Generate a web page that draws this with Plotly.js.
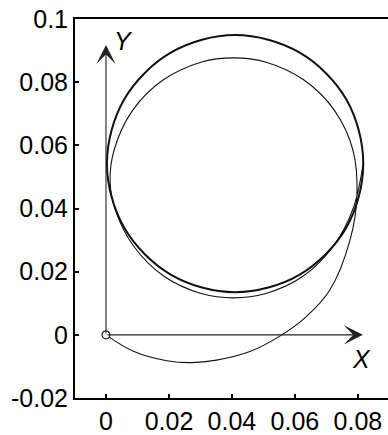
<!DOCTYPE html>
<html>
<head>
<meta charset="utf-8">
<script src="https://cdn.plot.ly/plotly-3.0.1.min.js"></script>
<style>
  html, body { margin: 0; padding: 0; background: #fff; overflow: hidden; }
  #chart { width: 390px; height: 435px; }
</style>
</head>
<body>
<div id="chart"></div>
<script>
// transient path: starts at the origin, one wide pass, then a second loop
const pathX = [0, 0.0087, 0.0193, 0.0272, 0.0351, 0.0457, 0.0552, 0.0630, 0.0711, 0.0775, 0.0797,
  0.0784, 0.0726, 0.0630, 0.0506, 0.0405, 0.0304, 0.0180, 0.0084, 0.0026, 0.0013,
  0.0030, 0.0087, 0.0182, 0.0305, 0.0405, 0.0505, 0.0628, 0.0723, 0.0785, 0.0817];
const pathY = [0, -0.0052, -0.0082, -0.0088, -0.0080, -0.0053, -0.0004, 0.0052, 0.0142, 0.0300, 0.0440,
  0.0586, 0.0710, 0.0806, 0.0864, 0.0877, 0.0864, 0.0806, 0.0710, 0.0586, 0.0485,
  0.0395, 0.0282, 0.0187, 0.0130, 0.0117, 0.0130, 0.0187, 0.0282, 0.0400, 0.0542];

// settled loop (drawn heavier, several passes overlap in the original)
const cycleX = [0.0817, 0.0763, 0.0614, 0.0410, 0.0207, 0.0058, 0.0003, 0.0058, 0.0207, 0.0410, 0.0614, 0.0763, 0.0817];
const cycleY = [0.0542, 0.0746, 0.0894, 0.0949, 0.0894, 0.0746, 0.0542, 0.0339, 0.0190, 0.0135, 0.0190, 0.0339, 0.0542];

const xTicks = [0, 0.02, 0.04, 0.06, 0.08];
const xTickText = ["0", "0.02", "0.04", "0.06", "0.08"];
const yTicks = [-0.02, 0, 0.02, 0.04, 0.06, 0.08, 0.1];
const yTickText = ["-0.02", "0", "0.02", "0.04", "0.06", "0.08", "0.1"];

const font = "Liberation Sans, Arial, sans-serif";

const data = [
  {
    x: pathX, y: pathY, type: "scatter", mode: "lines",
    line: { color: "#111", width: 1.1, shape: "spline", smoothing: 1 },
    hoverinfo: "skip"
  },
  {
    x: cycleX, y: cycleY, type: "scatter", mode: "lines",
    line: { color: "#111", width: 2, shape: "spline", smoothing: 1 },
    hoverinfo: "skip"
  },
  {
    x: [0], y: [0], type: "scatter", mode: "markers",
    marker: { size: 8, color: "#fff", line: { color: "#222", width: 1.2 } },
    hoverinfo: "skip"
  }
];

const arrowOpts = {
  xref: "x", yref: "y", axref: "x", ayref: "y",
  text: "", showarrow: true, arrowhead: 3, arrowsize: 2.9,
  arrowwidth: 1.1, arrowcolor: "#222", standoff: 0, startstandoff: 0
};

const layout = {
  width: 390,
  height: 435,
  margin: { l: 75, r: 0, t: 19, b: 37 },
  paper_bgcolor: "#fff",
  plot_bgcolor: "#fff",
  showlegend: false,
  font: { family: font, size: 25, color: "#000" },
  xaxis: {
    range: [-0.00984, 0.0902],
    tickmode: "array",
    tickvals: xTicks,
    ticktext: xTickText,
    ticks: "inside",
    ticklen: 4,
    tickwidth: 2,
    tickcolor: "#000",
    showline: true,
    linecolor: "#000",
    linewidth: 2,
    mirror: true,
    showgrid: false,
    zeroline: false,
    tickfont: { family: font, size: 25, color: "#000" }
  },
  yaxis: {
    range: [-0.02, 0.1],
    tickmode: "array",
    tickvals: yTicks,
    ticktext: yTickText,
    ticks: "inside",
    ticklen: 4,
    tickwidth: 2,
    tickcolor: "#000",
    showline: true,
    linecolor: "#000",
    linewidth: 2,
    showgrid: false,
    zeroline: false,
    tickfont: { family: font, size: 25, color: "#000" }
  },
  annotations: [
    { ...arrowOpts, x: 0, y: 0.0918, ax: 0, ay: 0 },
    { ...arrowOpts, x: 0.0816, y: 0, ax: 0, ay: 0 },
    {
      x: 0.0057, y: 0.093, xref: "x", yref: "y", text: "<i>Y</i>", showarrow: false,
      font: { family: font, size: 25, color: "#000" }
    },
    {
      x: 0.081, y: -0.0077, xref: "x", yref: "y", text: "<i>X</i>", showarrow: false,
      font: { family: font, size: 25, color: "#000" }
    }
  ]
};

Plotly.newPlot("chart", data, layout, { displayModeBar: false, staticPlot: true });
</script>
</body>
</html>
